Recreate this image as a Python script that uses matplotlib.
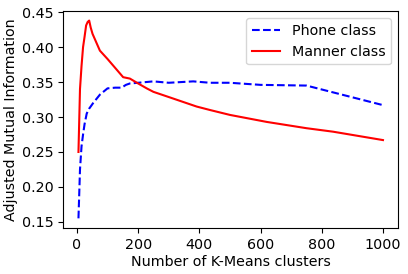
import numpy as np
import matplotlib.pyplot as plt

# cluster counts and AMI values
phone_k = [5, 10, 15, 20, 25, 32, 40, 53, 75, 100, 125, 146, 160, 173, 200, 250, 300, 380, 435, 500, 600, 750, 1000]
phone_ami = [0.155, 0.225, 0.258, 0.275, 0.290, 0.305, 0.312, 0.320, 0.332, 0.341, 0.342, 0.342, 0.346, 0.348, 0.349, 0.351, 0.349, 0.351, 0.349, 0.349, 0.346, 0.345, 0.317]

manner_k = [5, 10, 15, 20, 25, 30, 35, 40, 45, 51, 75, 100, 151, 173, 200, 228, 250, 304, 391, 435, 500, 620, 750, 837, 1000]
manner_ami = [0.250, 0.340, 0.373, 0.400, 0.415, 0.431, 0.436, 0.438, 0.428, 0.419, 0.395, 0.383, 0.357, 0.355, 0.348, 0.341, 0.336, 0.328, 0.315, 0.310, 0.303, 0.293, 0.284, 0.279, 0.267]

plt.rcParams['font.size'] = 10.3
fig = plt.figure(figsize=(4.08, 2.74), dpi=100)
ax = fig.add_axes([0.155, 0.167, 0.821, 0.794])
ax.plot(phone_k, phone_ami, 'b--', label='Phone class')
ax.plot(manner_k, manner_ami, 'r', label='Manner class')
ax.set_xlabel('Number of K-Means clusters', labelpad=2)
ax.set_ylabel('Adjusted Mutual Information', labelpad=3)
ax.set_xticks([0, 200, 400, 600, 800, 1000])
ax.set_yticks([0.15, 0.20, 0.25, 0.30, 0.35, 0.40, 0.45])
ax.tick_params(labelsize=10.3)
ax.legend(loc='upper right')
fig.savefig('out.png', dpi=100)
